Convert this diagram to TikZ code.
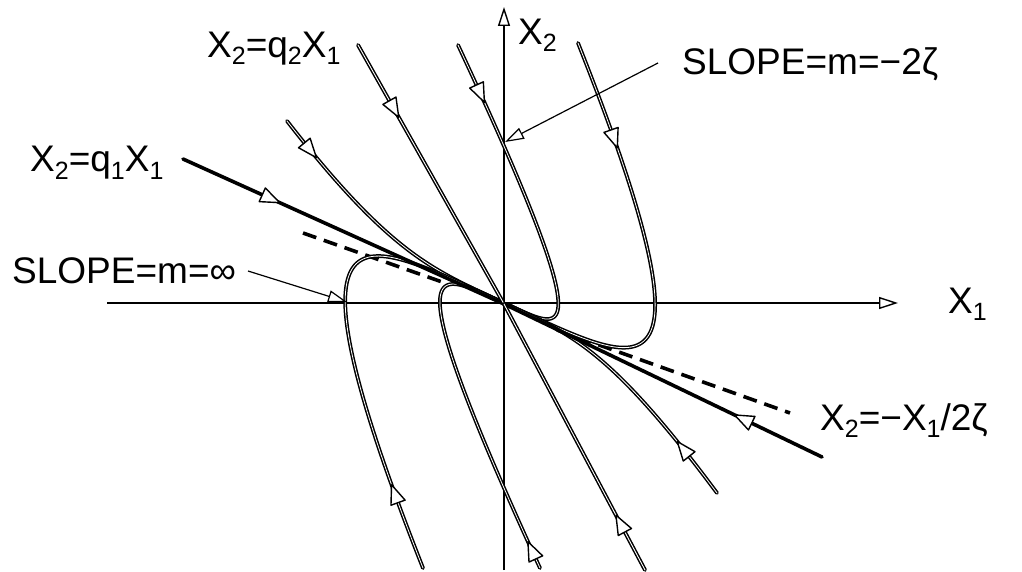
\documentclass[tikz,border=0pt]{standalone}
\usepackage{fontspec}
\setmainfont{Liberation Sans}
\usetikzlibrary{arrows.meta,decorations.markings}

\newcommand\sub[1]{\raisebox{-7pt}{\fontsize{25}{25}\selectfont #1}}
\newcommand\arrowtri{\draw[black,fill=white,line width=1.4pt,solid,line join=round] (7pt,0pt) -- (-12pt,7.5pt) -- (-12pt,-7.5pt) -- cycle;}

\tikzset{
  traj/.style={draw=black, line width=1.5pt, double=white, double distance=0.8pt, line cap=round},
  eig/.style={draw=black, line width=3.6pt, line cap=round},
  eigd/.style={draw=black, line width=1.5pt, double=white, double distance=0.9pt, line cap=round},
  axis/.style={draw=black, line width=1.4pt, -{Triangle[open,length=19pt,width=12pt]}},
  pointer/.style={draw=black, line width=1.2pt, -{Triangle[open,length=19pt,width=12pt]}},
  dashln/.style={draw=black, line width=3.6pt, dash pattern=on 14pt off 8pt},
  lbl/.style={font=\fontsize{37}{40}\selectfont, inner sep=0pt, anchor=base west},
  mk/.style={postaction={decorate}, decoration={markings, mark=at position #1 with {\arrowtri}}}
}

\begin{document}
\begin{tikzpicture}[x=1pt,y=-1pt]
\useasboundingbox (0,0) rectangle (1022,572);

% axes
\coordinate (xl) at (107,303);
\coordinate (xr) at (898,303);
\coordinate (yb) at (504,570);
\coordinate (yt) at (504,7);
\draw[axis] (xl) -- (xr);
\draw[axis] (yb) -- (yt);

% dashed line X2 = -X1/2zeta
\coordinate (d1) at (303,233);
\coordinate (d2) at (445,283);
\coordinate (d3) at (557,330);
\coordinate (d4) at (790,413);
\draw[dashln] (d1) -- (d2);
\draw[dashln] (d3) -- (d4);

% trajectories
\draw[traj, mk=40pt] plot[domain=1:0.02, samples=120, variable=\t]
  ({504+(-157.7)*\t+(-59.3)*\t^4}, {303+0.466*(-157.7)*\t+1.83*(-59.3)*\t^4});
\draw[traj, mk=56pt] plot[domain=1:0.02, samples=120, variable=\t]
  ({504+(127.4)*\t+(-173.4)*\t^4}, {303+0.466*(127.4)*\t+1.83*(-173.4)*\t^4});
\draw[traj, mk=105pt] plot[domain=1:0.02, samples=120, variable=\t]
  ({504+(289.9)*\t+(-215.9)*\t^4}, {303+0.466*(289.9)*\t+1.83*(-215.9)*\t^4});
\draw[traj, mk=82pt] plot[domain=1:0.02, samples=120, variable=\t]
  ({504+(-303)*\t+(222)*\t^4}, {303+0.466*(-303)*\t+1.83*(222)*\t^4});
\draw[traj, mk=22pt] plot[domain=1:0.02, samples=120, variable=\t]
  ({504+(-146)*\t+(182)*\t^4}, {303+0.466*(-146)*\t+1.83*(182)*\t^4});
\draw[traj, mk=58pt] plot[domain=1:0.02, samples=120, variable=\t]
  ({504+(146.5)*\t+(66.5)*\t^4}, {303+0.466*(146.5)*\t+1.83*(66.5)*\t^4});

% eigenvector lines
\coordinate (o) at (504,304);
\coordinate (q1a) at (183,159);
\coordinate (q1b) at (822,457);
\coordinate (q2a) at (358,45);
\coordinate (q2b) at (645,570);
\draw[eig, mk=99pt] (q1a) -- (o);
\draw[eig, mk=90pt] (q1b) -- (o);
\draw[eigd, mk=76pt] (q2a) -- (o);
\draw[eigd, mk=55pt] (q2b) -- (o);

% pointers
\coordinate (pms) at (658,63);
\coordinate (pmt) at (505,142);
\coordinate (pis) at (248,271);
\coordinate (pit) at (347,302);
\draw[pointer] (pms) -- (pmt);
\draw[pointer] (pis) -- (pit);

% labels
\node[lbl] (lq2) at (207,58) {X\sub{2}=q\sub{2}X\sub{1}};
\node[lbl] (lq1) at (30,172) {X\sub{2}=q\sub{1}X\sub{1}};
\node[lbl] (linf) at (12,283) {SLOPE=m=∞};
\node[lbl] (lm2) at (682,75) {SLOPE=m=−2ζ};
\node[lbl] (lx1) at (948,313) {X\sub{1}};
\node[lbl] (lx2) at (518,45) {X\sub{2}};
\node[lbl] (lxd) at (820,430) {X\sub{2}=−X\sub{1}/2ζ};
\end{tikzpicture}
\end{document}
